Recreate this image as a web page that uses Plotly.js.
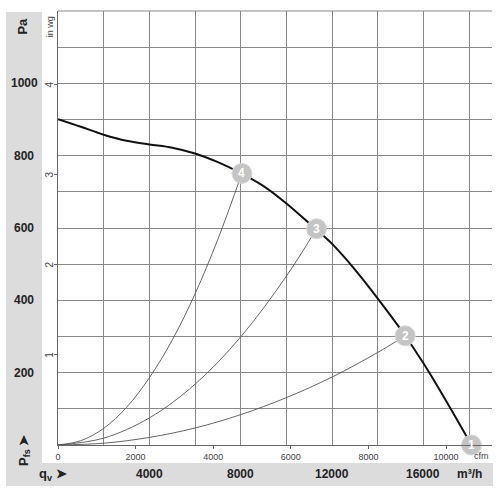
<!DOCTYPE html>
<html><head><meta charset="utf-8">
<script src="https://cdn.plot.ly/plotly-3.0.1.min.js"></script>
<style>html,body{margin:0;padding:0;background:#fff}#c{width:500px;height:500px}</style>
</head><body><div id="c"></div>
<script>
// Fan curve (m³/h, Pa)
const fanQ = [0,1000,2000,3000,4000,5000,6000,7000,8000,9000,10000,11000,12000,13000,14000,15000,16000,17000,18100];
const fanP = [901,880,858,841,831,822,806,782,752,716,668,613,556,485,405,320,226,121,0];
// Operating points
const opLabels = ['1','2','3','4'];
const opQ = [18100,15200,11320,8050];
const opP = [0,302,598,751];
// System (resistance) curves
const sys4Q = [0,1000,2000,3000,4000,5000,6000,7000,8050];
const sys4P = [0,12,46,104,186,290,418,569,751];
const sys3Q = [0,2000,4000,6000,8000,10000,11320];
const sys3P = [0,19,75,168,299,467,598];
const sys2Q = [0,2000,4000,6000,8000,10000,12000,14000,15200];
const sys2P = [0,5,21,47,84,131,188,256,302];
// Tick labels
const paTicks = [200,400,600,800,1000];
const m3hTicks = [4000,8000,12000,16000];
const cfmTicks = [0,2000,4000,6000,8000,10000];
const inwgTicks = [1,2,3,4];

const FONT = 'Liberation Sans, Arial, sans-serif';
const sysLine = {color:'#555', width:0.9, shape:'spline'};
const traces = [
  {x:sys4Q, y:sys4P, mode:'lines', line:sysLine, hoverinfo:'skip'},
  {x:sys3Q, y:sys3P, mode:'lines', line:sysLine, hoverinfo:'skip'},
  {x:sys2Q, y:sys2P, mode:'lines', line:sysLine, hoverinfo:'skip'},
  {x:fanQ, y:fanP, mode:'lines', line:{color:'#111', width:2, shape:'spline', smoothing:1}, hoverinfo:'skip'},
  {x:opQ, y:opP, mode:'markers',
   marker:{size:20, color:'#c4c4c4', line:{color:'#d8d8d8', width:1}}, cliponaxis:false, hoverinfo:'skip'},
  // carriers for secondary axes
  {x:[0], y:[0], xaxis:'x2', yaxis:'y2', mode:'markers', marker:{opacity:0}, hoverinfo:'skip'}
];

const annotations = [];
opLabels.forEach((t,i) => annotations.push({xref:'x', yref:'y', x:opQ[i], y:opP[i], text:t, showarrow:false,
  xanchor:'center', yanchor:'middle', font:{family:FONT, size:12, color:'#fff', weight:'bold'}}));
paTicks.forEach(v => annotations.push({xref:'paper', yref:'y', x:-0.078, y:v, text:String(v), showarrow:false,
  xanchor:'center', yanchor:'middle', font:{family:FONT, size:12, color:'#222', weight:'bold'}}));
m3hTicks.forEach(v => annotations.push({xref:'x', yref:'paper', x:v, y:-0.067, text:String(v), showarrow:false,
  xanchor:'center', yanchor:'middle', font:{family:FONT, size:12, color:'#222', weight:'bold'}}));
inwgTicks.forEach(v => annotations.push({xref:'paper', yref:'y2', x:-0.019, y:v, text:String(v), textangle:-90, showarrow:false,
  xanchor:'center', yanchor:'middle', font:{family:FONT, size:10, color:'#444'}}));
annotations.push(
  {xref:'paper', yref:'paper', x:-0.081, y:0.966, text:'Pa', textangle:-90, showarrow:false, xanchor:'center', yanchor:'middle',
   font:{family:FONT, size:13, color:'#222', weight:'bold'}},
  {xref:'paper', yref:'paper', x:0.949, y:-0.067, text:'m³/h', showarrow:false, xanchor:'center', yanchor:'middle',
   font:{family:FONT, size:12, color:'#222', weight:'bold'}},
  {xref:'paper', yref:'paper', x:-0.018, y:0.963, text:'in wg', textangle:-90, showarrow:false, xanchor:'center', yanchor:'middle',
   font:{family:FONT, size:9, color:'#444'}},
  {xref:'paper', yref:'paper', x:0.975, y:-0.025, text:'cfm', showarrow:false, xanchor:'center', yanchor:'middle',
   font:{family:FONT, size:9, color:'#444'}},
  {xref:'paper', yref:'paper', x:-0.079, y:-0.012, text:'P<sub>fs</sub> ➤', textangle:-90, showarrow:false, xanchor:'center', yanchor:'middle',
   font:{family:FONT, size:13, color:'#222', weight:'bold'}},
  {xref:'paper', yref:'paper', x:-0.012, y:-0.069, text:'q<sub>v</sub> ➤', showarrow:false, xanchor:'center', yanchor:'middle',
   font:{family:FONT, size:13, color:'#222', weight:'bold'}}
);

const layout = {
  width:500, height:500, showlegend:false,
  margin:{l:58, r:8, t:11, b:55},
  paper_bgcolor:'#fff', plot_bgcolor:'#fff',
  font:{family:FONT},
  xaxis:{range:[0,19000], dtick:2000, tick0:0, showgrid:true, gridcolor:'#888', gridwidth:1,
         showticklabels:false, ticks:'', zeroline:false, showline:true, linecolor:'#666', linewidth:1, fixedrange:true},
  yaxis:{range:[0,1200], dtick:100, tick0:0, showgrid:true, gridcolor:'#888', gridwidth:1,
         showticklabels:false, ticks:'', zeroline:false, showline:true, linecolor:'#666', linewidth:1, fixedrange:true},
  xaxis2:{overlaying:'x', anchor:'y', side:'bottom', range:[0,19000/1.699], tickvals:cfmTicks, ticktext:cfmTicks.map(String),
          ticks:'outside', ticklen:3, tickcolor:'#666', showgrid:false, zeroline:false, showline:false,
          tickfont:{family:FONT, size:9, color:'#444'}, fixedrange:true},
  yaxis2:{overlaying:'y', anchor:'x', side:'left', range:[0,1200/249.09], tickvals:inwgTicks,
          ticks:'outside', ticklen:3, tickcolor:'#666', showgrid:false, zeroline:false, showline:false,
          showticklabels:false, fixedrange:true},
  shapes:[
    {type:'rect', xref:'paper', yref:'paper', x0:-0.1198, x1:-0.0369, y0:-0.0945, y1:0.9977, fillcolor:'#dcdcdc', line:{width:0}, layer:'below'},
    {type:'rect', xref:'paper', yref:'paper', x0:-0.1198, x1:1.0023, y0:-0.0945, y1:-0.0415, fillcolor:'#dcdcdc', line:{width:0}, layer:'below'},
    {type:'line', xref:'paper', yref:'paper', x0:0, x1:1, y0:1, y1:1, line:{color:'#888', width:1}}
  ],
  annotations:annotations
};
Plotly.newPlot('c', traces, layout, {displayModeBar:false, staticPlot:true});
</script></body></html>
